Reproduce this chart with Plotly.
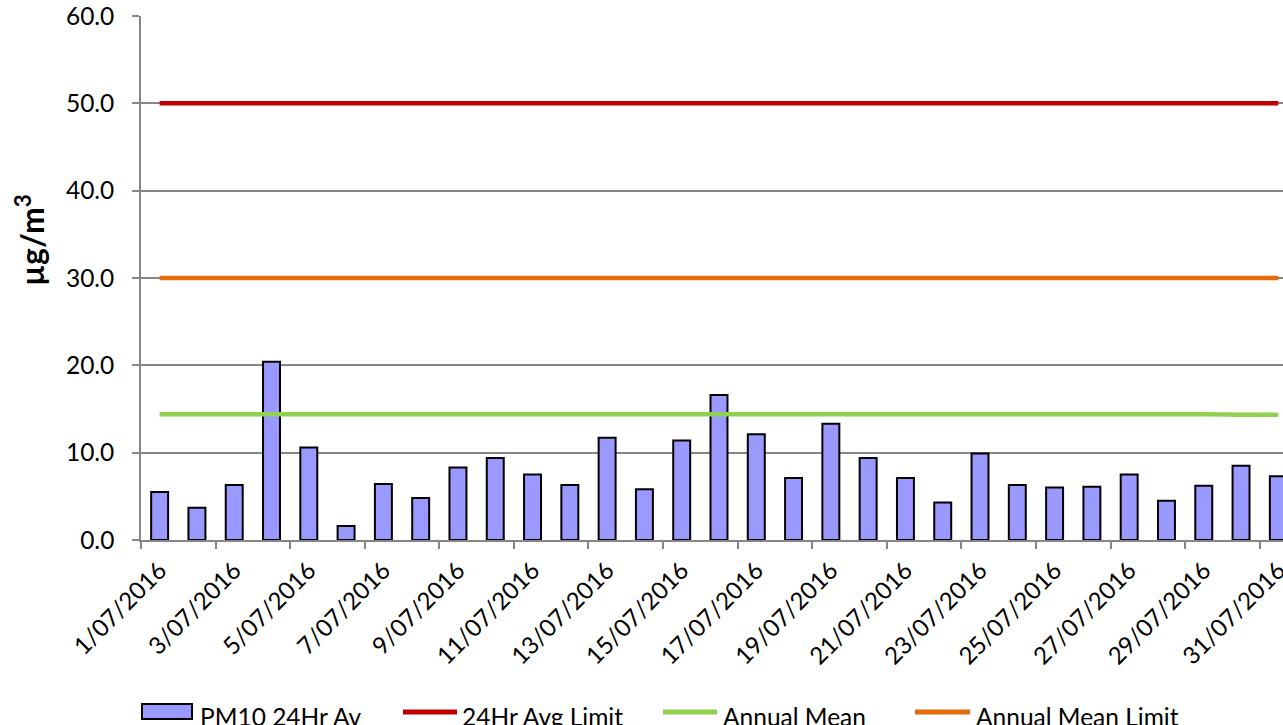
import plotly.graph_objects as go

dates = [f"{d}/07/2016" for d in range(1, 32)]
pm10 = [5.5, 3.7, 6.3, 20.4, 10.6, 1.6, 6.4, 4.8, 8.3, 9.4, 7.5, 6.3, 11.7, 5.8, 11.4, 16.6,
        12.1, 7.1, 13.3, 9.4, 7.1, 4.3, 9.9, 6.3, 6.0, 6.1, 7.5, 4.5, 6.2, 8.5, 7.3]
limit_24hr = [50.0] * 31
annual_mean = [14.4, 14.4, 14.4, 14.4, 14.4, 14.4, 14.4, 14.4, 14.4, 14.4, 14.4, 14.4, 14.4, 14.45, 14.45, 14.5,
               14.5, 14.5, 14.5, 14.45, 14.4, 14.4, 14.4, 14.4, 14.4, 14.4, 14.4, 14.4, 14.4, 14.35, 14.35]
annual_limit = [30.0] * 31

series_names = ["PM10 24Hr Av", "24Hr Avg Limit", "Annual Mean", "Annual Mean Limit"]
colors = ["#9999FF", "#C00000", "#92D050", "#E46C0A"]

FONT = "Lato, Open Sans, sans-serif"

# plot area in page pixels
L, R, T, B = 141, 1283, 16, 540
W, H = R - L, B - T


def px(x):
    return (x - L) / W


def py(y):
    return (B - y) / H


fig = go.Figure()
fig.add_trace(go.Bar(x=dates, y=pm10, name=series_names[0],
                     marker=dict(color=colors[0], line=dict(color="black", width=2))))
fig.add_trace(go.Scatter(x=dates, y=limit_24hr, name=series_names[1], mode="lines",
                         line=dict(color=colors[1], width=4.5)))
fig.add_trace(go.Scatter(x=dates, y=annual_mean, name=series_names[2], mode="lines",
                         line=dict(color=colors[2], width=4.5)))
fig.add_trace(go.Scatter(x=dates, y=annual_limit, name=series_names[3], mode="lines",
                         line=dict(color=colors[3], width=4.5)))

shapes = []
annotations = []
# custom legend (Excel style)
shapes.append(dict(type="rect", xref="paper", yref="paper", x0=px(142), x1=px(192), y0=py(704), y1=py(719),
                   fillcolor=colors[0], line=dict(color="black", width=2)))
text_x = [198, 460, 721, 974]
line_x = [None, (403, 457), (663, 717), (915, 970)]
for i, name in enumerate(series_names):
    if line_x[i] is not None:
        shapes.append(dict(type="line", xref="paper", yref="paper", x0=px(line_x[i][0]), x1=px(line_x[i][1]),
                           y0=py(712), y1=py(712), line=dict(color=colors[i], width=5)))
    annotations.append(dict(text=name, xref="paper", yref="paper", x=px(text_x[i]), y=py(716),
                            xanchor="left", yanchor="middle", showarrow=False,
                            font=dict(family=FONT, size=24.5, color="black")))
# y axis title
annotations.append(dict(text="<b>µg/m<sup>3</sup></b>", xref="paper", yref="paper", x=px(30), y=py(240),
                        xanchor="center", yanchor="middle", textangle=-90, showarrow=False,
                        font=dict(family=FONT, size=32, color="black")))

fig.update_layout(
    width=1283, height=725,
    margin=dict(l=L, r=0, t=T, b=725 - B),
    plot_bgcolor="white", paper_bgcolor="white",
    font=dict(family=FONT, size=24, color="black"),
    bargap=0.545,
    showlegend=False,
    shapes=shapes,
    annotations=annotations,
)
fig.update_xaxes(type="category", range=[-0.5, 30.125], tickmode="linear", dtick=2,
                 tickson="boundaries", ticks="outside", ticklen=7, tickcolor="#868686", tickwidth=1.5,
                 tickangle=-45, showgrid=False, showline=True, linecolor="#868686", linewidth=1.5,
                 tickfont=dict(size=24), automargin=False, ticklabelstandoff=5)
fig.update_yaxes(range=[0, 60], dtick=10, tickformat=".1f", showgrid=True, gridcolor="#868686",
                 gridwidth=1.5, showline=True, linecolor="#868686", linewidth=1.5,
                 ticks="outside", ticklen=7, tickcolor="#868686", tickwidth=1.5, zeroline=False,
                 tickfont=dict(size=24.5), automargin=False, ticklabelstandoff=13)

fig.write_html("out.html", config={"displayModeBar": False},
               post_script="document.body.style.margin='0';document.body.style.overflow='hidden';")
